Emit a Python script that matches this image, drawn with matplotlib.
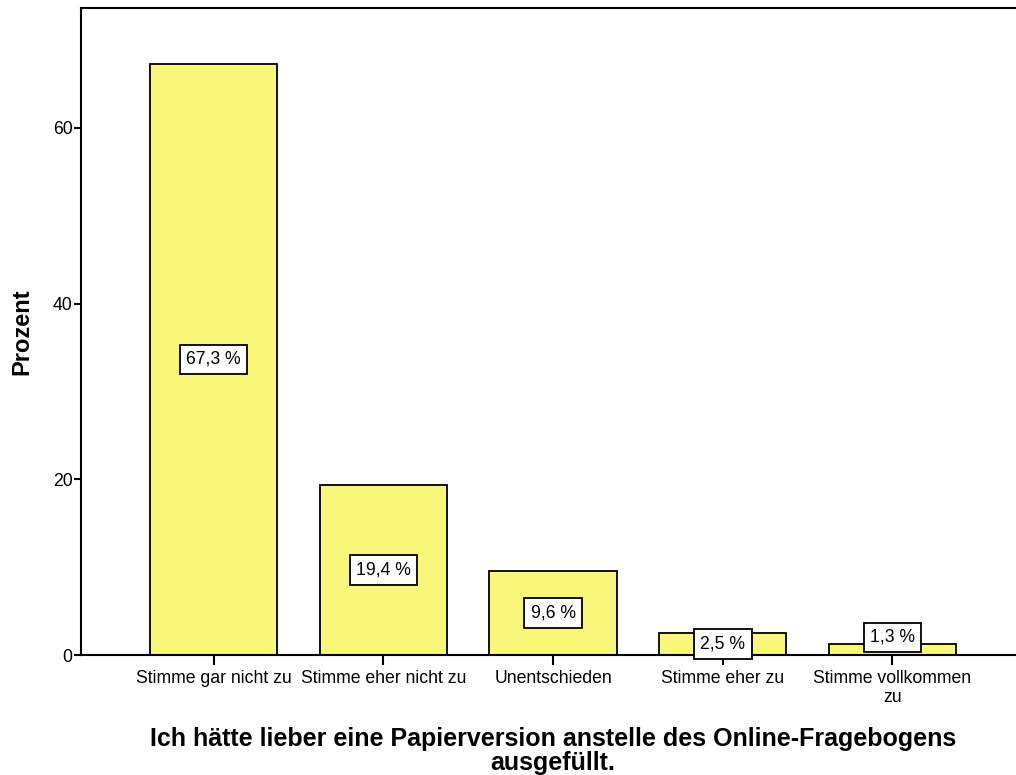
import matplotlib
matplotlib.use("Agg")
import matplotlib.pyplot as plt

plt.rcParams["font.family"] = ["Liberation Sans", "DejaVu Sans"]

categories = ["Stimme gar nicht zu", "Stimme eher nicht zu", "Unentschieden",
              "Stimme eher zu", "Stimme vollkommen\nzu"]
values = [67.3, 19.4, 9.6, 2.5, 1.3]
labels = ["67,3 %", "19,4 %", "9,6 %", "2,5 %", "1,3 %"]
yticks = [0, 20, 40, 60]

fig = plt.figure(figsize=(10.16, 7.75), dpi=100)
ax = fig.add_axes([0.0797, 0.1548, 0.9292, 0.835])

x = list(range(len(categories)))
ax.bar(x, values, width=0.75, color="#F9F77A", edgecolor="black", linewidth=1.3, zorder=2)

# label boxes sit at half bar height; the smallest one is pushed up so it stays above the axis
label_y = [v / 2 for v in values]
label_y[-1] = 2.0
for xi, ly, lab in zip(x, label_y, labels):
    ax.text(xi, ly, lab, ha="center", va="center", fontsize=12.7, zorder=3,
            bbox=dict(boxstyle="square,pad=0.36", facecolor="white", edgecolor="black", linewidth=1.3))

ax.set_xlim(-0.782, 4.782)
ax.set_ylim(0, 73.66)
ax.set_xticks(x)
ax.set_xticklabels(categories, fontsize=12.7, linespacing=1.15)
ax.set_yticks(yticks)
ax.set_yticklabels([str(t) for t in yticks], fontsize=12.7)
ax.tick_params(axis="y", length=5, width=1.5, pad=1)
ax.tick_params(axis="x", length=7, width=1.5, pad=4)

for s in ax.spines.values():
    s.set_linewidth(1.5)

ax.set_ylabel("Prozent", fontsize=17, fontweight="bold", labelpad=14)
ax.set_xlabel("Ich hätte lieber eine Papierversion anstelle des Online-Fragebogens\nausgefüllt.",
              fontsize=18, fontweight="bold", labelpad=15, linespacing=1.0)

plt.savefig("out.png", dpi=100)
